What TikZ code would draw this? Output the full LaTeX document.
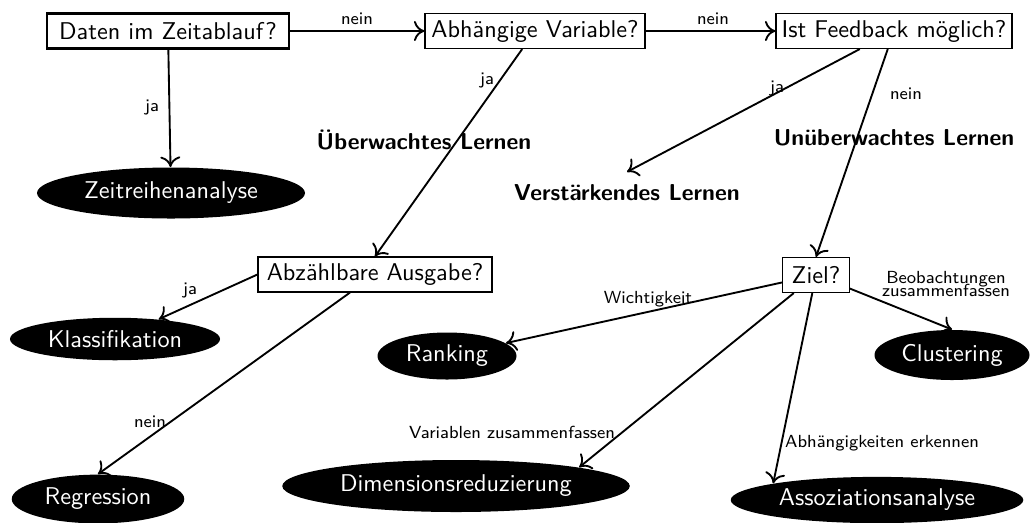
\documentclass[tikz,border=0pt]{standalone}
\usetikzlibrary{shapes.geometric,arrows.meta}
\begin{document}
\begin{tikzpicture}[x=0.4pt,y=-0.4pt,font=\sffamily\fontsize{9.7}{11.6}\selectfont,
  qbox/.style={draw,line width=0.45pt,minimum height=14pt,inner sep=0pt},
  leaf/.style={ellipse,fill=black,text=white,inner sep=0pt},
  lbl/.style={font=\sffamily\scriptsize,inner sep=0pt},
  kind/.style={font=\sffamily\bfseries\fontsize{9.2}{11}\selectfont,inner sep=0pt},
  conn/.style={-{To[length=4.2pt,width=8pt]},line width=0.75pt}]
\useasboundingbox (0,0) rectangle (1033,522);
% question boxes
\node[qbox,line width=0.9pt,minimum width=96.8pt] (daten) at (168,31) {Daten im Zeitablauf?};
\node[qbox,minimum width=88pt] (abh) at (535,31) {Abhängige Variable?};
\node[qbox,minimum width=94.4pt] (feed) at (894,31) {Ist Feedback möglich?};
\node[qbox,minimum width=93.6pt] (abz) at (375,274.5) {Abzählbare Ausgabe?};
\node[qbox,minimum width=26.5pt] (ziel) at (816,275) {Ziel?};
% leaves
\node[leaf,minimum width=107.2pt,minimum height=20.4pt] (zeit) at (171,193) {Zeitreihenanalyse};
\node[leaf,minimum width=84pt,minimum height=17pt] (kl) at (115,339) {Klassifikation};
\node[leaf,minimum width=55.6pt,minimum height=18.8pt] (rank) at (447,356) {Ranking};
\node[leaf,minimum width=62pt,minimum height=20pt] (clust) at (952,355) {Clustering};
\node[leaf,minimum width=139pt,minimum height=20.8pt] (dimred) at (456,486) {Dimensionsreduzierung};
\node[leaf,minimum width=69pt,minimum height=19.5pt] (reg) at (98,499) {Regression};
\node[leaf,minimum width=117pt,minimum height=18.5pt] (assoz) at (877,500) {Assoziationsanalyse};
% learning kinds
\node[kind] (ueb) at (424,140) {Überwachtes Lernen};
\node[kind] (unueb) at (894,138) {Unüberwachtes Lernen};
\node[kind,inner sep=5pt] (verst) at (627,193) {Verstärkendes Lernen};
% connectors
\draw[conn] (daten) -- (abh);
\draw[conn] (abh) -- (feed);
\draw[conn] (daten) -- (zeit);
\draw[conn] (abh) -- (abz.north);
\draw[conn] (feed) -- (verst.north);
\draw[conn] (feed) -- (ziel.north);
\draw[conn] (abz.west) -- (kl);
\draw[conn] (abz) -- (reg.north);
\draw[conn] (ziel) -- (rank);
\draw[conn] (ziel) -- (dimred.north east);
\draw[conn] (ziel) -- (assoz.north west);
\draw[conn] (ziel) -- (clust.north);
% labels
\node[lbl] (l1) at (357,19) {nein};
\node[lbl] (l2) at (713,19) {nein};
\node[lbl] (l3) at (152,107) {ja};
\node[lbl] (l4) at (487,80) {ja};
\node[lbl] (l5) at (777,88) {ja};
\node[lbl] (l6) at (906,94) {nein};
\node[lbl] (l7) at (190,290) {ja};
\node[lbl] (l8) at (150,422) {nein};
\node[lbl] (l9) at (648,299) {Wichtigkeit};
\node[lbl] (l10) at (512,432) {Variablen zusammenfassen};
\node[lbl] (l11) at (882,443) {Abhängigkeiten erkennen};
\node[lbl,align=center] (l12) at (946,284) {Beobachtungen\\[-3pt]zusammenfassen};
\end{tikzpicture}
\end{document}
